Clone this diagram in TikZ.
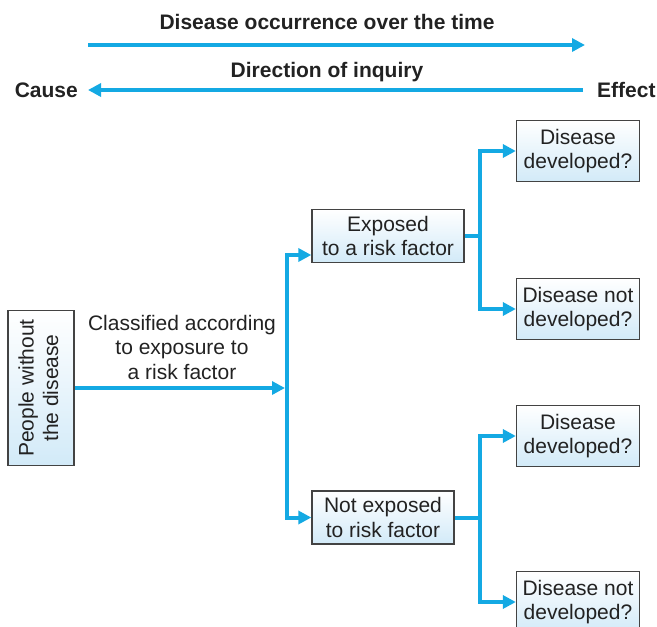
\documentclass[tikz,border=0pt]{standalone}
\usepackage{fontspec}
\setmainfont{Liberation Sans}
\usetikzlibrary{arrows.meta}
\definecolor{arrowblue}{HTML}{14A9E3}
\definecolor{boxblue}{HTML}{D2EAF8}
\definecolor{ink}{HTML}{222222}
\begin{document}
\begin{tikzpicture}[x=1pt,y=-1pt,
  font=\fontsize{21}{24.5}\selectfont, text=ink,
  box/.style={draw=ink!85, line width=1.3pt, top color=white, bottom color=boxblue,
    align=center, inner sep=0pt},
  flow/.style={draw=arrowblue, line width=4pt, line join=miter},
  arr/.style={flow, -{Triangle[length=13pt,width=13pt]}},
  headline/.style={font=\fontsize{21}{24}\selectfont\bfseries, inner sep=0pt}]
\useasboundingbox (0,0) rectangle (657,627);

% top arrows and labels
\node[headline] (occ) at (327,22) {Disease occurrence over the time};
\coordinate (occs) at (88,45);
\coordinate (occe) at (585,45);
\draw[arr] (occs) -- (occe);
\node[headline] (inq) at (327,72) {Direction of inquiry};
\node[headline, anchor=east] (cause) at (78,90) {Cause};
\node[headline, anchor=west] (effect) at (597,90) {Effect};
\draw[arr, shorten >=10pt, shorten <=14pt] (effect.west) -- (cause.east);

% boxes
\node[box, minimum width=66, minimum height=155] (ppl) at (41,388)
  {\rotatebox{90}{\begin{tabular}{@{}c@{}}People without\\the disease\end{tabular}}};
\node[align=center, inner sep=0pt] (cls) at (182,347)
  {Classified according\\to exposure to\\a risk factor};
\node[box, minimum width=152, minimum height=53] (exp) at (388,236) {Exposed\\to a risk factor};
\node[box, minimum width=142, minimum height=53] (nexp) at (383,517.5) {Not exposed\\to risk factor};
\node[box, minimum width=123, minimum height=61] (dd1) at (578,151) {Disease\\developed?};
\node[box, minimum width=123, minimum height=61] (dnd1) at (578,309) {Disease not\\developed?};
\node[box, minimum width=123, minimum height=61] (dd2) at (578,436) {Disease\\developed?};
\node[box, minimum width=123, minimum height=61] (dnd2) at (578,602) {Disease not\\developed?};

% first split
\coordinate (split) at (287,388);
\draw[arr, shorten >=2pt] (ppl.east) -- (split);
\draw[arr] (split) |- ([yshift=-19pt]exp.west);
\draw[arr] (split) |- (nexp.west);

% second splits
\coordinate (ju) at (480,236);
\coordinate (jl) at (480,517.5);
\draw[flow] (exp.east) -- (ju);
\draw[arr] (ju) |- (dd1.west);
\draw[arr] (ju) |- (dnd1.west);
\draw[flow] (nexp.east) -- (jl);
\draw[arr] (jl) |- (dd2.west);
\draw[arr] (jl) |- (dnd2.west);
\end{tikzpicture}
\end{document}
